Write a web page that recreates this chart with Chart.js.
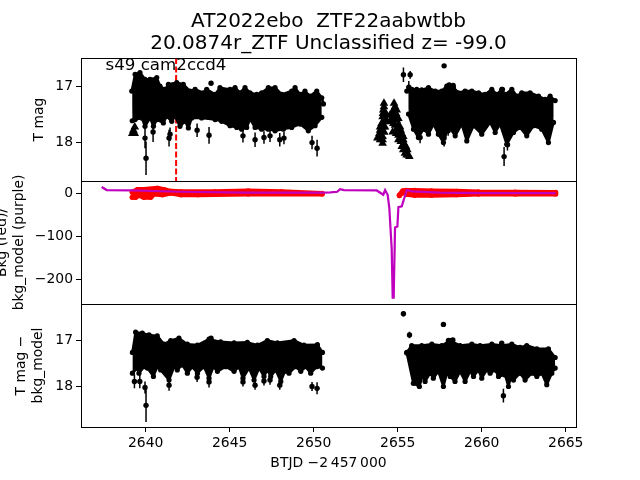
<!DOCTYPE html>
<html>
<head>
<meta charset="utf-8">
<title>AT2022ebo</title>
<script src="https://cdn.jsdelivr.net/npm/chart.js@4"></script>
<style>
html, body { margin: 0; padding: 0; background: #fff; }
canvas { display: block; }
</style>
</head>
<body>
<canvas id="lcChart" width="640" height="480"></canvas>
<script>
const titleLines = ['AT2022ebo  ZTF22aabwtbb', '20.0874r_ZTF Unclassified z= -99.0'];
const sectorLabel = 's49 cam2ccd4';
const sectorLabelX = 2637.61;
const sectorLabelY = 16.71;
const markerX = 2641.81;

const xTicks = [2640, 2645, 2650, 2655, 2660, 2665];
const topTicks = [17, 18];
const midTicks = [0, -100, -200];
const botTicks = [17, 18];

// top panel, left part of the light curve (outline of the error bars)
const topLeftUpX = [2639.17, 2639.37, 2639.66, 2639.96, 2640.26, 2640.66, 2640.85, 2641.15, 2641.35, 2641.85, 2642.24, 2642.64, 2642.94, 2643.43, 2643.63, 2644.13, 2644.42, 2645.02, 2645.32, 2645.61, 2645.91, 2646.21, 2646.61, 2646.90, 2647.30, 2647.70, 2648.10, 2648.69, 2648.89, 2649.19, 2649.48, 2649.78, 2650.18, 2650.48, 2650.58];
const topLeftUp = [17.09, 16.79, 16.76, 16.88, 16.88, 16.85, 17.00, 17.06, 16.97, 16.94, 16.97, 17.09, 17.06, 17.12, 17.06, 17.15, 17.03, 17.06, 17.03, 17.12, 17.03, 17.12, 17.15, 17.12, 17.03, 17.03, 17.15, 17.09, 17.03, 17.15, 17.09, 17.18, 17.09, 17.21, 17.32];
const topLeftLowX = [2639.20, 2639.37, 2639.77, 2639.96, 2640.26, 2640.46, 2640.66, 2641.05, 2641.25, 2641.55, 2641.75, 2642.04, 2642.34, 2642.54, 2642.74, 2643.33, 2644.13, 2644.52, 2645.02, 2645.42, 2645.71, 2646.01, 2646.21, 2646.51, 2646.90, 2647.30, 2647.70, 2648.19, 2648.69, 2649.19, 2649.68, 2650.08, 2650.48];
const topLeftLow = [17.62, 17.60, 17.57, 17.72, 17.57, 17.72, 17.60, 17.66, 17.54, 17.63, 17.54, 17.72, 17.63, 17.75, 17.57, 17.57, 17.60, 17.63, 17.71, 17.74, 17.77, 17.74, 17.59, 17.74, 17.77, 17.77, 17.80, 17.77, 17.74, 17.68, 17.80, 17.71, 17.56];

// top panel, right part
const topRightUpX = [2655.54, 2655.84, 2656.13, 2656.43, 2656.83, 2657.23, 2657.62, 2657.92, 2658.32, 2658.61, 2659.01, 2659.41, 2659.81, 2660.20, 2660.60, 2660.90, 2661.19, 2661.39, 2661.79, 2662.09, 2662.38, 2662.88, 2663.38, 2663.77, 2664.07, 2664.37];
const topRightUp = [17.09, 17.06, 17.06, 17.07, 17.03, 17.09, 17.09, 17.00, 17.03, 17.12, 17.09, 17.09, 17.12, 17.15, 17.06, 17.15, 17.06, 17.15, 17.06, 17.18, 17.12, 17.12, 17.18, 17.24, 17.18, 17.26];
const topRightLowX = [2655.64, 2655.94, 2656.23, 2656.53, 2656.83, 2657.13, 2657.42, 2657.72, 2658.02, 2658.42, 2658.81, 2659.11, 2659.51, 2660.00, 2660.50, 2660.80, 2661.09, 2661.49, 2661.89, 2662.28, 2662.68, 2663.08, 2663.57, 2663.97, 2664.27];
const topRightLow = [17.50, 17.77, 17.92, 17.77, 17.86, 17.68, 17.86, 18.01, 17.71, 17.89, 17.68, 17.98, 17.71, 17.86, 17.65, 17.83, 17.68, 18.04, 17.83, 17.74, 17.89, 17.71, 17.77, 18.01, 17.65];

// single points that stand out from the band
const topOutX = [2640.02, 2639.96, 2640.44, 2641.39, 2641.45, 2643.06, 2643.77, 2645.79, 2646.51, 2647.04, 2647.40, 2647.98, 2648.23, 2649.90, 2650.20, 2643.89, 2655.34, 2655.74, 2657.76, 2655.66, 2661.33, 2661.23, 2658.06, 2658.30, 2657.76, 2658.00, 2656.33, 2661.53];
const topOutY = [18.29, 17.93, 17.82, 17.93, 17.86, 17.79, 17.88, 17.89, 17.96, 17.92, 17.89, 17.96, 17.93, 18.01, 18.11, 16.95, 16.80, 16.80, 16.64, 17.02, 18.26, 17.06, 16.98, 16.99, 17.93, 17.80, 17.92, 18.05];
const topOutErr = [0.30, 0.18, 0.18, 0.15, 0.12, 0.12, 0.15, 0.12, 0.13, 0.11, 0.11, 0.12, 0.11, 0.12, 0.15, 0.03, 0.13, 0.07, 0.03, 0.11, 0.17, 0.03, 0.03, 0.03, 0.15, 0.09, 0.10, 0.10];

// upper limits, drawn as triangles
const limitX = [2639.20, 2639.35, 2639.27, 2639.35, 2654.18, 2654.14, 2654.10, 2654.04, 2653.95, 2653.79, 2654.10, 2654.10, 2654.30, 2654.34, 2654.24, 2654.00, 2654.18, 2654.78, 2654.74, 2654.94, 2654.54, 2654.84, 2655.04, 2654.54, 2654.84, 2655.14, 2654.70, 2654.90, 2655.24, 2655.04, 2655.33, 2655.24, 2655.49, 2655.43, 2655.63, 2654.18, 2654.12, 2654.24, 2654.14, 2653.95, 2654.14, 2653.91, 2654.18, 2653.95, 2654.10, 2654.84, 2654.70, 2654.90, 2654.64, 2654.94, 2654.74, 2655.04, 2654.94, 2655.18, 2655.04, 2655.33, 2655.18, 2655.37, 2655.33, 2655.57, 2655.53, 2655.69];
const limitY = [17.85, 17.85, 17.79, 17.73, 17.31, 17.43, 17.55, 17.67, 17.79, 17.93, 17.90, 18.02, 17.49, 17.61, 17.73, 17.90, 17.82, 17.31, 17.43, 17.43, 17.52, 17.55, 17.58, 17.64, 17.70, 17.73, 17.82, 17.85, 17.85, 17.96, 17.96, 18.08, 18.08, 18.20, 18.23, 17.37, 17.49, 17.58, 17.64, 17.73, 17.73, 17.85, 17.82, 17.96, 17.96, 17.37, 17.48, 17.49, 17.58, 17.61, 17.67, 17.70, 17.76, 17.79, 17.88, 17.90, 17.99, 18.02, 18.14, 18.14, 18.23, 18.26];

// middle panel
const modelX = [2637.38, 2637.68, 2639.2, 2642.0, 2646.0, 2650.5, 2651.0, 2651.4, 2651.57, 2651.8, 2653.75, 2654.14, 2654.25, 2654.40, 2654.50, 2654.64, 2654.70, 2654.76, 2654.84, 2654.98, 2655.04, 2655.24, 2655.54, 2655.84, 2657.5, 2660.0, 2664.4];
const modelY = [14, 7, 6, 3, 1, 1, 1.5, 3, 9, 7, 6, -4, 7, -4, -35, -128, -243, -243, -80, -78, -33, -31, 7, 4, 1, 0, 0];
const bkgLeftUpX = [2639.2, 2639.5, 2639.9, 2640.7, 2641.1, 2641.5, 2642.1, 2644.1, 2646.1, 2648.1, 2650.5];
const bkgLeftUp = [2, 8, 8, 11, 8, 4, 3, 3, 5, 3, -1];
const bkgLeftLowX = [2639.2, 2639.4, 2639.6, 2639.9, 2640.3, 2640.5, 2641.0, 2641.5, 2642.1, 2643.1, 2646.1, 2650.5];
const bkgLeftLow = [-10, -10, -5, -10, -10, -2, -4, 0, -4, -4, -2, -2];
const bkgRightUpX = [2655.1, 2655.3, 2655.5, 2656.0, 2657.0, 2658.5, 2659.8, 2662.0, 2664.4];
const bkgRightUp = [-5, 5, 6, 6, 5, 4, 2.5, 2, 1.5];
const bkgRightLowX = [2655.1, 2655.3, 2655.5, 2656.0, 2657.0, 2658.5, 2659.8, 2662.0, 2664.4];
const bkgRightLow = [-6, 3, -3, -5, -5, -4, -2.5, -2, -2];

// bottom panel
const botLeftUpX = [2639.21, 2639.40, 2639.80, 2640.20, 2640.69, 2641.09, 2641.49, 2641.98, 2642.48, 2643.08, 2643.77, 2644.46, 2645.26, 2646.05, 2646.65, 2647.24, 2647.84, 2648.83, 2649.42, 2650.22, 2650.52];
const botLeftUp = [17.27, 16.83, 16.85, 16.89, 16.91, 17.09, 17.01, 16.96, 17.09, 17.11, 16.98, 17.04, 17.06, 17.05, 17.11, 17.01, 17.06, 17.01, 17.11, 17.10, 17.27];
const botLeftLowX = [2639.21, 2639.50, 2639.60, 2639.90, 2640.10, 2640.46, 2640.69, 2640.89, 2641.39, 2641.69, 2641.88, 2642.18, 2642.48, 2642.78, 2643.08, 2643.47, 2643.77, 2644.03, 2644.27, 2644.76, 2645.26, 2645.55, 2645.79, 2646.15, 2646.45, 2646.75, 2647.04, 2647.24, 2647.44, 2647.74, 2648.04, 2648.28, 2648.53, 2648.93, 2649.23, 2649.52, 2649.82, 2650.18, 2650.52];
const botLeftLow = [17.72, 17.61, 17.72, 17.58, 17.61, 17.79, 17.58, 17.65, 17.87, 17.58, 17.65, 17.54, 17.72, 17.58, 17.72, 17.58, 17.83, 17.58, 17.68, 17.58, 17.68, 17.58, 17.83, 17.61, 17.87, 17.61, 17.79, 17.65, 17.79, 17.65, 17.90, 17.68, 17.72, 17.58, 17.68, 17.58, 17.72, 17.58, 17.61];
const botRightUpX = [2655.54, 2655.83, 2656.43, 2657.03, 2657.62, 2658.12, 2658.71, 2659.41, 2659.90, 2660.60, 2661.19, 2661.79, 2662.28, 2662.68, 2663.28, 2663.97, 2664.37];
const botRightUp = [17.27, 17.12, 17.12, 17.09, 17.12, 17.01, 17.12, 17.09, 17.12, 17.09, 17.12, 17.09, 17.16, 17.12, 17.19, 17.19, 17.38];
const botRightLowX = [2655.54, 2655.93, 2656.29, 2656.49, 2656.63, 2656.93, 2657.12, 2657.42, 2657.72, 2657.92, 2658.12, 2658.41, 2658.71, 2659.01, 2659.31, 2659.51, 2659.80, 2660.00, 2660.30, 2660.50, 2660.80, 2661.00, 2661.39, 2661.59, 2661.79, 2661.89, 2662.28, 2662.58, 2662.98, 2663.28, 2663.57, 2663.87, 2664.17, 2664.37];
const botRightLow = [17.28, 17.94, 18.01, 17.76, 17.90, 17.72, 17.83, 17.68, 18.01, 17.72, 17.79, 17.90, 17.68, 17.90, 17.68, 17.79, 17.65, 17.83, 17.65, 17.72, 17.65, 17.79, 17.76, 18.01, 17.72, 17.87, 17.72, 17.87, 17.72, 17.79, 17.72, 17.97, 17.72, 17.61];
const botOutX = [2640.02, 2639.96, 2639.33, 2639.65, 2641.39, 2643.06, 2643.77, 2645.79, 2646.51, 2647.04, 2647.40, 2647.98, 2649.90, 2650.20, 2643.89, 2655.34, 2655.70, 2657.72, 2658.02, 2658.28, 2661.19, 2661.29];
const botOutY = [18.42, 18.03, 17.90, 17.90, 17.98, 17.81, 17.91, 17.91, 17.98, 17.89, 17.87, 17.98, 18.01, 18.05, 16.96, 16.43, 16.89, 16.66, 17.01, 17.00, 17.07, 18.21];
const botOutErr = [0.36, 0.13, 0.15, 0.15, 0.12, 0.10, 0.12, 0.10, 0.10, 0.10, 0.10, 0.10, 0.10, 0.13, 0.03, 0.06, 0.07, 0.03, 0.03, 0.03, 0.03, 0.15];

const fontName = '"DejaVu Sans", sans-serif';
const black = '#000';
const red = '#ff0000';
const purple = '#bf00bf';

const toPoints = (xs, ys) => xs.map((x, i) => ({ x: x, y: ys[i] }));

// outline of a dense block of points: upper line filled down to the lower line,
// round markers on the outline keep the blobby edge of the error bars
const band = (xs, up, lowXs, low, yAxisID, color, lineWidth) => {
    const common = {
        yAxisID: yAxisID,
        borderColor: color,
        backgroundColor: color,
        borderWidth: lineWidth,
        borderCapStyle: 'round',
        borderJoinStyle: 'round',
        pointRadius: 2.6,
        pointBorderWidth: 0,
        pointBackgroundColor: color,
        order: 2
    };
    return [
        Object.assign({ data: toPoints(xs, up), fill: '+1' }, common),
        Object.assign({ data: toPoints(lowXs, low), fill: false }, common)
    ];
};

const outliers = (xs, ys, errs, yAxisID) => {
    const bars = [];
    xs.forEach((x, i) => {
        bars.push({ x: x, y: ys[i] - errs[i] });
        bars.push({ x: x, y: ys[i] + errs[i] });
        bars.push({ x: x, y: null });
    });
    return [
        { yAxisID: yAxisID, data: bars, borderColor: black, borderWidth: 1.5, pointRadius: 0, order: 1 },
        { yAxisID: yAxisID, data: toPoints(xs, ys), showLine: false, pointRadius: 2.7, pointBorderWidth: 0, pointBackgroundColor: black, order: 1 }
    ];
};

const datasets = [].concat(
    [{ yAxisID: 'yTop', data: [{ x: markerX, y: 16.5 }, { x: markerX, y: 18.7 }], borderColor: red, borderWidth: 2, borderDash: [6, 2.5], pointRadius: 0, order: 5 }],
    band(topLeftUpX, topLeftUp, topLeftLowX, topLeftLow, 'yTop', black, 2.5),
    band(topRightUpX, topRightUp, topRightLowX, topRightLow, 'yTop', black, 2.5),
    outliers(topOutX, topOutY, topOutErr, 'yTop'),
    [{ yAxisID: 'yTop', data: toPoints(limitX, limitY), showLine: false, pointStyle: 'triangle', pointRadius: 5, pointBorderWidth: 0, pointBackgroundColor: black, order: 1 }],
    [{ yAxisID: 'yMid', data: toPoints(modelX, modelY), borderColor: purple, borderWidth: 2.2, pointRadius: 0, order: 0 }],
    band(bkgLeftUpX, bkgLeftUp, bkgLeftLowX, bkgLeftLow, 'yMid', red, 5),
    band(bkgRightUpX, bkgRightUp, bkgRightLowX, bkgRightLow, 'yMid', red, 5),
    band(botLeftUpX, botLeftUp, botLeftLowX, botLeftLow, 'yBot', black, 2.5),
    band(botRightUpX, botRightUp, botRightLowX, botRightLow, 'yBot', black, 2.5),
    outliers(botOutX, botOutY, botOutErr, 'yBot')
);

const minusLabel = (value) => String(value).replace('-', '\u2212');

const yAxis = (opts) => ({
    type: 'linear',
    position: 'left',
    stack: 'panels',
    stackWeight: 1,
    weight: opts.weight,
    reverse: opts.reverse,
    min: opts.min,
    max: opts.max,
    border: { display: false },
    grid: { display: true, drawOnChartArea: false, drawTicks: true, tickLength: 5, tickColor: black, tickWidth: 1 },
    ticks: { color: black, font: { family: fontName, size: 13.9 }, padding: 3, callback: minusLabel },
    afterBuildTicks: (scale) => { scale.ticks = opts.ticks.map(v => ({ value: v })); },
    afterFit: (scale) => { scale.width = 81; },
    title: { display: true, text: opts.title, color: black, font: { family: fontName, size: 13.9, lineHeight: 1.2 }, padding: { top: opts.titlePad, bottom: 0 } }
});

// axes frame around each panel and the sector label
const panelFrames = {
    id: 'panelFrames',
    afterDatasetsDraw(chart) {
        const ctx = chart.ctx;
        const x = chart.scales.x;
        ctx.save();
        ctx.strokeStyle = black;
        ctx.lineWidth = 1;
        ['yTop', 'yMid', 'yBot'].forEach(id => {
            const s = chart.scales[id];
            ctx.strokeRect(Math.round(x.left) + 0.5, Math.round(s.top) + 0.5, Math.round(x.width), Math.round(s.height));
        });
        ctx.fillStyle = black;
        ctx.font = '16.67px ' + fontName;
        ctx.textBaseline = 'alphabetic';
        ctx.fillText(sectorLabel, x.getPixelForValue(sectorLabelX), chart.scales.yTop.getPixelForValue(sectorLabelY));
        ctx.restore();
    }
};

new Chart(document.getElementById('lcChart').getContext('2d'), {
    type: 'line',
    data: { datasets: datasets },
    plugins: [panelFrames],
    options: {
        responsive: false,
        animation: false,
        events: [],
        layout: { padding: { left: 0, right: 64, top: 0, bottom: 0 } },
        elements: { line: { tension: 0 } },
        scales: {
            x: {
                type: 'linear',
                min: 2636.15,
                max: 2665.61,
                border: { display: false },
                grid: { display: true, drawOnChartArea: false, drawTicks: true, tickLength: 5, tickColor: black, tickWidth: 1 },
                ticks: { color: black, font: { family: fontName, size: 13.9 }, padding: 3, maxRotation: 0, autoSkip: false, callback: v => String(v) },
                afterBuildTicks: (scale) => { scale.ticks = xTicks.map(v => ({ value: v })); },
                afterFit: (scale) => { scale.height = 53; },
                title: { display: true, text: 'BTJD \u22122\u2009457\u2009000', color: black, font: { family: fontName, size: 13.9 }, padding: { top: 1, bottom: 8 } }
            },
            yTop: yAxis({ weight: 3, min: 16.5, max: 18.696, reverse: true, ticks: topTicks, title: 'T mag', titlePad: 31 }),
            yMid: yAxis({ weight: 2, min: -258, max: 28, reverse: false, ticks: midTicks, title: ['Bkg (red)/', 'bkg_model (purple)'], titlePad: -6 }),
            yBot: yAxis({ weight: 1, min: 16.217, max: 18.89, reverse: true, ticks: botTicks, title: ['T mag \u2212', 'bkg_model'], titlePad: 13 })
        },
        plugins: {
            legend: { display: false },
            tooltip: { enabled: false },
            title: {
                display: true,
                fullSize: false,
                text: titleLines,
                color: black,
                font: { family: fontName, size: 20, weight: 'normal', lineHeight: 1.1 },
                padding: { top: 11, bottom: 3 }
            }
        }
    }
});
</script>
</body>
</html>
